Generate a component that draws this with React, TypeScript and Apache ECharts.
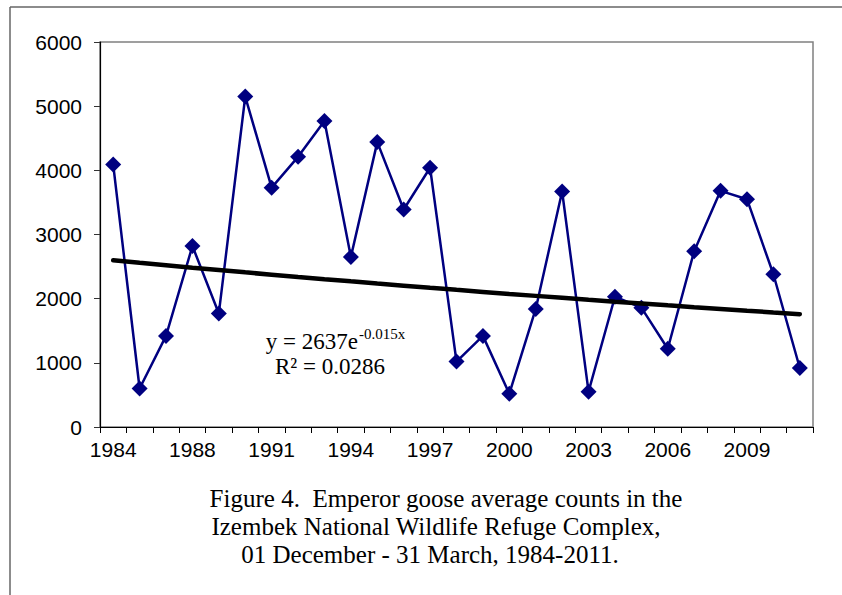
import React, { useEffect, useRef } from "react";
import * as echarts from "echarts";

const years = [
  "1984", "1985", "1986", "1988", "1989", "1990", "1991", "1992", "1993",
  "1994", "1995", "1996", "1997", "1998", "1999", "2000", "2001", "2002",
  "2003", "2004", "2005", "2006", "2007", "2008", "2009", "2010", "2011",
];
const counts = [
  4090, 600, 1420, 2820, 1770, 5150, 3730, 4210, 4770, 2650, 4440, 3390, 4040,
  1020, 1420, 520, 1840, 3670, 550, 2030, 1860, 1220, 2740, 3680, 3550, 2380, 920,
];
// Exponential trendline as stated on the chart: y = 2637 e^(-0.015x)
const trendA = 2637;
const trendB = -0.015;
const equationMain = "y = 2637e";
const equationSup = "-0.015x";
const rSquared = "R² = 0.0286";
const captionLines = [
  "Figure 4.  Emperor goose average counts in the",
  "Izembek National Wildlife Refuge Complex,",
  "01 December - 31 March, 1984-2011.",
];

export default function App() {
  const ref = useRef<HTMLDivElement>(null);
  useEffect(() => {
    if (!ref.current) return;
    const chart = echarts.init(ref.current, null, { renderer: "svg" });
    const trend = counts.map((_, i) => trendA * Math.exp(trendB * (i + 1)));
    const sans = "'Liberation Sans', Arial, sans-serif";
    const serif = "'Liberation Serif', 'Times New Roman', serif";
    chart.setOption({
      animation: false,
      backgroundColor: "#ffffff",
      grid: {
        left: 100,
        top: 42,
        width: 713,
        height: 385,
        show: true,
        borderColor: "#808080",
        borderWidth: 1.5,
        containLabel: false,
      },
      xAxis: {
        type: "category",
        data: years,
        boundaryGap: true,
        axisLine: { show: true, lineStyle: { color: "#000", width: 1.2 } },
        axisTick: { show: true, interval: 0, length: 6, lineStyle: { color: "#000", width: 1 } },
        axisLabel: {
          interval: 2,
          fontSize: 21,
          fontFamily: sans,
          color: "#000",
          margin: 12,
        },
        splitLine: { show: false },
      },
      yAxis: {
        type: "value",
        min: 0,
        max: 6000,
        interval: 1000,
        axisLine: { show: true, lineStyle: { color: "#000", width: 1.2 } },
        axisTick: { show: true, length: 6, lineStyle: { color: "#333", width: 1 } },
        axisLabel: {
          fontSize: 21,
          fontFamily: sans,
          color: "#000",
          margin: 18,
          formatter: (v: number) => String(v),
        },
        splitLine: { show: false },
      },
      series: [
        {
          type: "line",
          data: counts,
          symbol: "diamond",
          symbolSize: 16,
          lineStyle: { color: "#000080", width: 2.5 },
          itemStyle: { color: "#000080" },
          z: 2,
        },
        {
          type: "line",
          data: trend,
          symbol: "none",
          smooth: false,
          lineStyle: { color: "#000", width: 4.5, cap: "round" },
          z: 3,
        },
      ],
      graphic: [
        { type: "line", shape: { x1: 10, y1: 7, x2: 842, y2: 7 }, style: { stroke: "#666", lineWidth: 1.5 } },
        { type: "line", shape: { x1: 10, y1: 7, x2: 10, y2: 595 }, style: { stroke: "#666", lineWidth: 1.5 } },
        {
          type: "text",
          x: 358,
          y: 341,
          style: { text: equationMain, font: `23px ${serif}`, fill: "#000", align: "right", verticalAlign: "middle" },
        },
        {
          type: "text",
          x: 359,
          y: 334,
          style: { text: equationSup, font: `15px ${serif}`, fill: "#000", align: "left", verticalAlign: "middle" },
        },
        {
          type: "text",
          x: 330,
          y: 366,
          style: { text: rSquared, font: `23px ${serif}`, fill: "#000", align: "center", verticalAlign: "middle" },
        },
        {
          type: "text",
          x: 446,
          y: 498,
          style: { text: captionLines[0], font: `25px ${serif}`, fill: "#000", align: "center", verticalAlign: "middle" },
        },
        {
          type: "text",
          x: 436,
          y: 526,
          style: { text: captionLines[1], font: `25px ${serif}`, fill: "#000", align: "center", verticalAlign: "middle" },
        },
        {
          type: "text",
          x: 430,
          y: 554,
          style: { text: captionLines[2], font: `25px ${serif}`, fill: "#000", align: "center", verticalAlign: "middle" },
        },
      ],
    });
    return () => chart.dispose();
  }, []);
  return (
    <div
      ref={ref}
      style={{ position: "absolute", left: 0, top: 0, width: 842, height: 595 }}
    />
  );
}
